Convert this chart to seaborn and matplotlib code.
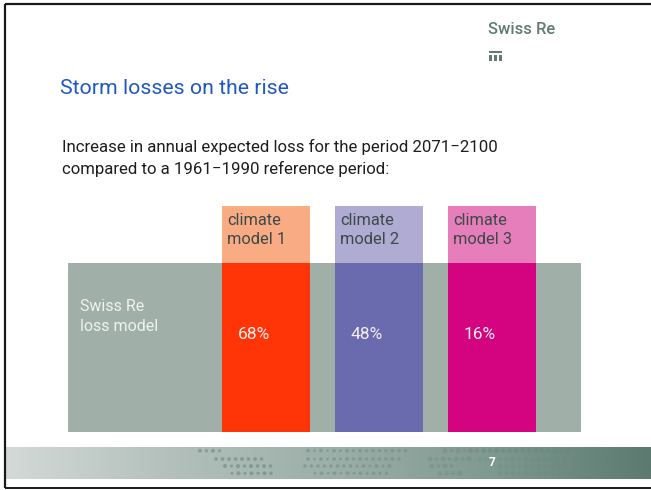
import numpy as np
import pandas as pd
import matplotlib
matplotlib.use("Agg")
import matplotlib.pyplot as plt
from matplotlib.patches import Rectangle
import seaborn as sns

# ---- data -------------------------------------------------------------
models = ["climate\nmodel 1", "climate\nmodel 2", "climate\nmodel 3"]
increase_pct = [68, 48, 16]
header_colors = ["#F9AC84", "#AFABD3", "#E67EBC"]
body_colors = ["#FF3508", "#6A6AAE", "#D4037F"]
baseline_label = "Swiss Re\nloss model"

title = "Storm losses on the rise"
subtitle = ("Increase in annual expected loss for the period 2071\u22122100\n"
            "compared to a 1961\u22121990 reference period:")
page_number = "7"

# ---- style ------------------------------------------------------------
sns.set_theme(style="white")
plt.rcParams["font.family"] = ["Roboto", "DejaVu Sans"]

W, H = 651, 490
fig = plt.figure(figsize=(W / 100, H / 100), dpi=100)
fig.patch.set_facecolor("white")

# slide canvas in pixel units
bg = fig.add_axes([0, 0, 1, 1])
bg.set_xlim(0, W)
bg.set_ylim(H, 0)
bg.axis("off")

# frame
bg.plot([4.5, W], [4.5, 4.5], color="#1a1a1a", lw=1.6, solid_capstyle="butt")
bg.plot([4.5, 4.5], [4.5, 488], color="#1a1a1a", lw=1.6, solid_capstyle="butt")
bg.plot([4.5, W], [488, 488], color="#1a1a1a", lw=1.4, solid_capstyle="butt")

# footer band with a light-to-dark gradient
grad = np.linspace(0, 1, 256)[None, :]
cmap = matplotlib.colors.LinearSegmentedColormap.from_list(
    "footer", ["#D3DAD8", "#B3C0BC", "#9DAFA9", "#7F9A91", "#5C7A70"])
bg.imshow(grad, extent=[6, W, 479, 447], aspect="auto", cmap=cmap, zorder=1)

# dotted texture in the footer
dot_rows = [450.7, 459, 466, 473.3]
dot_groups = [
    # (row spans, spacing, colour, alpha, base size)
    ([(200, 220), (216, 262), (225, 275), (232, 277)], 6.5, "#6C8880", 0.6, 7),
    ([(308, 410), (308, 400), (305, 395), (315, 388)], 6.5, "#6C8880", 0.5, 6),
    ([(445, 600), (430, 470), (432, 455), (440, 465)], 6.5, "#6A8880", 0.35, 11),
    ([(470, 600), (480, 610), (500, 600), (500, 590)], 6.5, "#6A8880", 0.25, 10),
]
for spans, step, col, alpha, base in dot_groups:
    for row_y, (x0, x1) in zip(dot_rows, spans):
        xs = np.arange(x0, x1, step)
        sizes = base * (0.6 + 0.6 * np.abs(np.sin(xs * 0.23)))
        bg.scatter(xs, np.full_like(xs, row_y), s=sizes, color=col,
                   alpha=alpha, linewidths=0, zorder=2)

bg.text(492, 462, page_number, color="white", fontsize=8.5, fontweight="bold",
        ha="center", va="center", zorder=3)

# corporate mark
bg.text(488, 29, "Swiss Re", color="#5E7C72", fontsize=12,
        fontweight="medium", ha="left", va="center")
bg.add_patch(Rectangle((489, 51.5), 13, 1.7, color="#5E7C72", lw=0))
for bx in (489.2, 494.2, 499.2):
    bg.add_patch(Rectangle((bx, 55.3), 2.6, 6.2, color="#5E7C72", lw=0))

# headings
bg.text(60, 88, title, color="#2058C2", fontsize=15.3, ha="left", va="center")
bg.text(62, 158, subtitle, color="#1e1e1e", fontsize=12.1, ha="left",
        va="center", linespacing=1.4)

# ---- chart ------------------------------------------------------------
x_left, x_right, y_top, y_bottom = 68, 581, 206, 432
ax = fig.add_axes([x_left / W, (H - y_bottom) / H,
                   (x_right - x_left) / W, (y_bottom - y_top) / H])
ax.set_facecolor("white")

body_height = 1.0
header_height = (263 - 206) / (432 - 263)
bar_width = 88 / 113

df = pd.DataFrame({"model": models, "pct": increase_pct})

# grey baseline band behind the model bars
ax.axhspan(0, body_height, color="#A1AFA9", lw=0, zorder=0)

# header blocks (full height) and model bars on top of them
sns.barplot(data=df.assign(h=body_height + header_height), x="model", y="h",
            hue="model", palette=header_colors, width=bar_width,
            saturation=1, legend=False, ax=ax, zorder=1, linewidth=0)
sns.barplot(data=df.assign(h=body_height), x="model", y="h",
            hue="model", palette=body_colors, width=bar_width,
            saturation=1, legend=False, ax=ax, zorder=2, linewidth=0)

px = 1 / 113.0  # one pixel in category units
for i, (name, pct) in enumerate(zip(models, increase_pct)):
    left = i - bar_width / 2
    ax.text(left + 5 * px, (432 - 230) / 169, name, color="#3B4947",
            fontsize=11.8, ha="left", va="center", linespacing=1.28, zorder=3)
    ax.text(left + 15.5 * px, (432 - 334) / 169, f"{pct}%", color="#F4EEF0",
            fontsize=12.5, ha="left", va="center", zorder=3)

ax.text((80 - 266) * px, (432 - 316.5) / 169, baseline_label,
        color="#EEF2F1", fontsize=11.5, ha="left", va="center",
        linespacing=1.35, zorder=3)

ax.set_xlim((68 - 266) * px, (581 - 266) * px)
ax.set_ylim(0, body_height + header_height)
ax.axis("off")

fig.savefig("out.png", dpi=100)
